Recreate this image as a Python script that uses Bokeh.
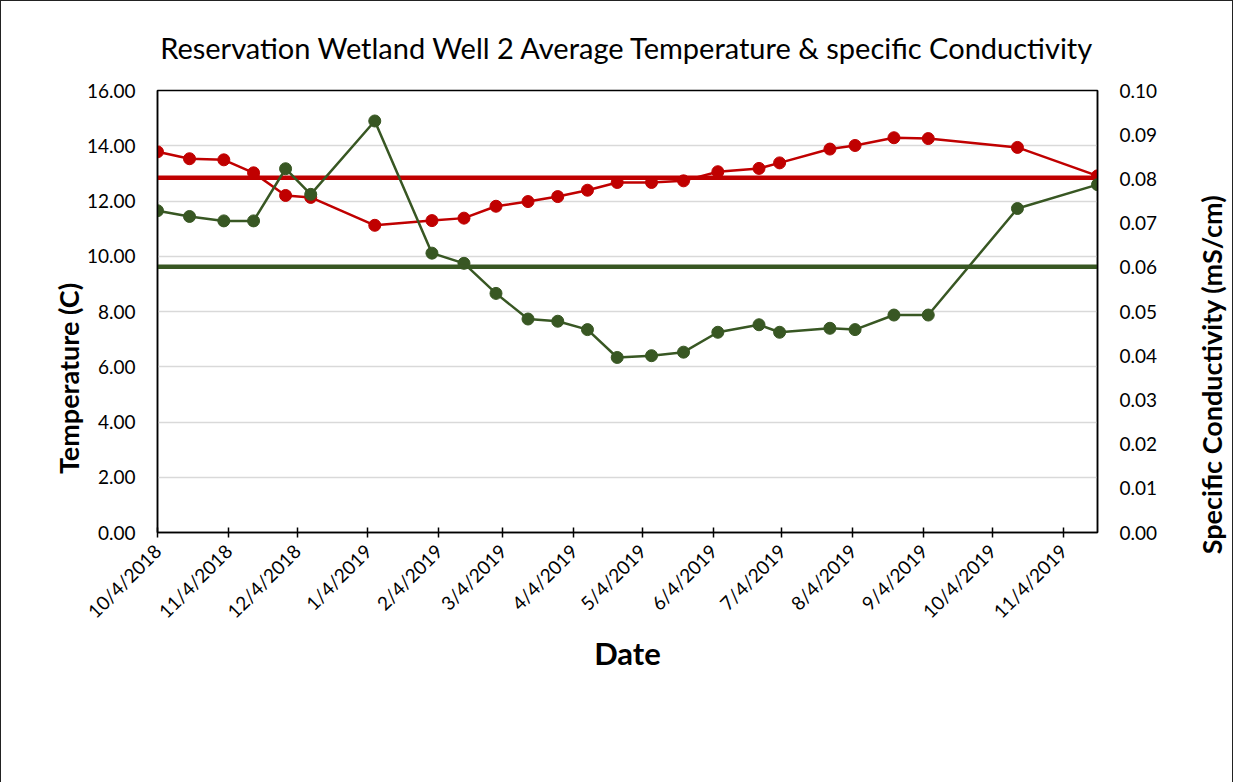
import math
import pandas as pd
from bokeh.plotting import figure
from bokeh.models import (Range1d, LinearAxis, FixedTicker, NumeralTickFormatter,
                          Legend, LegendItem, Label)
from bokeh.embed import file_html
from bokeh.resources import INLINE

# ---------------- data ----------------
dates = ["2018-10-04", "2018-10-18", "2018-11-02", "2018-11-15", "2018-11-29",
         "2018-12-10", "2019-01-07", "2019-02-01", "2019-02-15", "2019-03-01",
         "2019-03-15", "2019-03-28", "2019-04-10", "2019-04-23", "2019-05-08",
         "2019-05-22", "2019-06-06", "2019-06-24", "2019-07-03", "2019-07-25",
         "2019-08-05", "2019-08-22", "2019-09-06", "2019-10-15", "2019-11-19"]
temp_c = [13.78, 13.53, 13.49, 13.02, 12.20, 12.13, 11.12, 11.29, 11.38, 11.81,
          11.98, 12.16, 12.39, 12.67, 12.67, 12.73, 13.06, 13.18, 13.38, 13.88,
          14.01, 14.29, 14.26, 13.94, 12.91]
spcond = [0.0728, 0.0715, 0.0705, 0.0705, 0.0823, 0.0765, 0.0931, 0.0632, 0.0609, 0.0541,
          0.0483, 0.0478, 0.0459, 0.0396, 0.0400, 0.0408, 0.0453, 0.0470, 0.0453, 0.0462,
          0.0459, 0.0492, 0.0492, 0.0733, 0.0787]
temp_mean = 12.84
spcond_mean = 0.0601

tick_dates = ["2018-10-04", "2018-11-04", "2018-12-04", "2019-01-04", "2019-02-04",
              "2019-03-04", "2019-04-04", "2019-05-04", "2019-06-04", "2019-07-04",
              "2019-08-04", "2019-09-04", "2019-10-04", "2019-11-04"]
tick_labels = ["10/4/2018", "11/4/2018", "12/4/2018", "1/4/2019", "2/4/2019",
               "3/4/2019", "4/4/2019", "5/4/2019", "6/4/2019", "7/4/2019",
               "8/4/2019", "9/4/2019", "10/4/2019", "11/4/2019"]
temp_ticks = [0, 2, 4, 6, 8, 10, 12, 14, 16]
cond_ticks = [0.0, 0.01, 0.02, 0.03, 0.04, 0.05, 0.06, 0.07, 0.08, 0.09, 0.10]

title_text = "Reservation Wetland Well 2 Average Temperature & specific Conductivity"

# ---------------- prep ----------------
base = pd.Timestamp(dates[0])
xs = [(pd.Timestamp(d) - base).days for d in dates]
txs = [(pd.Timestamp(d) - base).days for d in tick_dates]

RED = "#C00000"
GREEN = "#385723"
FONT = "Lato"

p = figure(width=1231, height=766, frame_width=940, frame_height=442,
           output_backend="svg", toolbar_location=None,
           title=title_text,
           x_range=Range1d(xs[0], xs[-1]), y_range=Range1d(0, 16),
           min_border_left=156, min_border_right=135, min_border_top=87,
           min_border_bottom=230)
p.extra_y_ranges = {"cond": Range1d(0, 0.1)}
p.background_fill_color = "white"
p.border_fill_color = "white"
p.outline_line_color = "black"
p.outline_line_width = 1.5
p.styles = {"border": "1px solid #222"}

p.title.align = "center"
p.title.text_font = FONT
p.title.text_font_size = "29px"
p.title.text_font_style = "normal"
p.title.text_color = "black"
if "standoff" in p.title.properties():
    p.title.standoff = 52

# axes
xa = p.xaxis[0]
xa.ticker = FixedTicker(ticks=txs)
xa.major_label_overrides = {t: l for t, l in zip(txs, tick_labels)}
xa.major_label_orientation = math.pi / 4
xa.major_tick_in = 5
xa.major_tick_out = 5
xa.minor_tick_line_color = None
xa.major_label_standoff = 10
xa.axis_label = "Date"
xa.axis_label_standoff = 1
xa.axis_label_text_font_size = "31px"

ya = p.yaxis[0]
ya.ticker = FixedTicker(ticks=temp_ticks)
ya.formatter = NumeralTickFormatter(format="0.00")
ya.major_tick_in = 0
ya.major_tick_out = 0
ya.minor_tick_line_color = None
ya.major_label_standoff = 22

ra = LinearAxis(y_range_name="cond", ticker=FixedTicker(ticks=cond_ticks),
                formatter=NumeralTickFormatter(format="0.00"))
ra.major_tick_in = 0
ra.major_tick_out = 0
ra.minor_tick_line_color = None
ra.major_label_standoff = 22
p.add_layout(ra, "right")

for ax in (xa, ya, ra):
    ax.axis_line_color = "black"
    ax.axis_line_width = 1.5
    ax.major_tick_line_color = "black"
    ax.major_tick_line_width = 1.5
    ax.major_label_text_font = FONT
    ax.major_label_text_font_size = "19px"
    ax.major_label_text_color = "black"
    ax.axis_label_text_font = FONT
    ax.axis_label_text_font_style = "bold"
    ax.axis_label_text_color = "black"

p.xgrid.visible = False
p.ygrid.ticker = FixedTicker(ticks=temp_ticks)
p.ygrid.grid_line_color = "#d9d9d9"
p.ygrid.grid_line_width = 1.5

# series
r_t_line = p.line(xs, temp_c, line_color=RED, line_width=2.5)
r_t_pts = p.scatter(xs, temp_c, size=12, fill_color=RED, line_color=RED)
r_tm = p.line([xs[0], xs[-1]], [temp_mean, temp_mean], line_color=RED, line_width=4.5)
r_c_line = p.line(xs, spcond, line_color=GREEN, line_width=2.5, y_range_name="cond")
r_c_pts = p.scatter(xs, spcond, size=12, fill_color=GREEN, line_color=GREEN,
                    y_range_name="cond")
r_cm = p.line([xs[0], xs[-1]], [spcond_mean, spcond_mean], line_color=GREEN,
              line_width=4.5, y_range_name="cond")

# vertical axis titles, in the side panels (reading bottom to top)
p.add_layout(Label(x=18, y=154, x_units="screen", y_units="screen",
                   text="Temperature (C)", angle=math.pi / 2, text_font=FONT,
                   text_font_size="27px", text_font_style="bold", text_align="center",
                   text_baseline="middle", text_color="black"), "left")
p.add_layout(Label(x=51, y=158, x_units="screen", y_units="screen",
                   text="Specific Conductivity (mS/cm)", angle=math.pi / 2,
                   text_font=FONT, text_font_size="27px", text_font_style="bold",
                   text_align="center", text_baseline="middle", text_color="black"),
             "right")

# legend (below the axis, lower right)
legend = Legend(items=[
    LegendItem(label="Temp C", renderers=[r_t_line, r_t_pts]),
    LegendItem(label="Temp C Mean", renderers=[r_tm]),
    LegendItem(label="SpCond mS/cm", renderers=[r_c_line, r_c_pts]),
    LegendItem(label="SpCond mS/cm Mean", renderers=[r_cm]),
], location=(760, 44))
legend.glyph_width = 54
legend.glyph_height = 21
legend.label_height = 21
legend.spacing = 4
legend.padding = 0
legend.margin = 0
legend.label_standoff = 4
legend.border_line_color = None
legend.background_fill_alpha = 0
legend.label_text_font = FONT
legend.label_text_font_size = "21px"
legend.label_text_color = "black"
p.add_layout(legend, "below")

open("out.html", "w").write(file_html(p, INLINE))
